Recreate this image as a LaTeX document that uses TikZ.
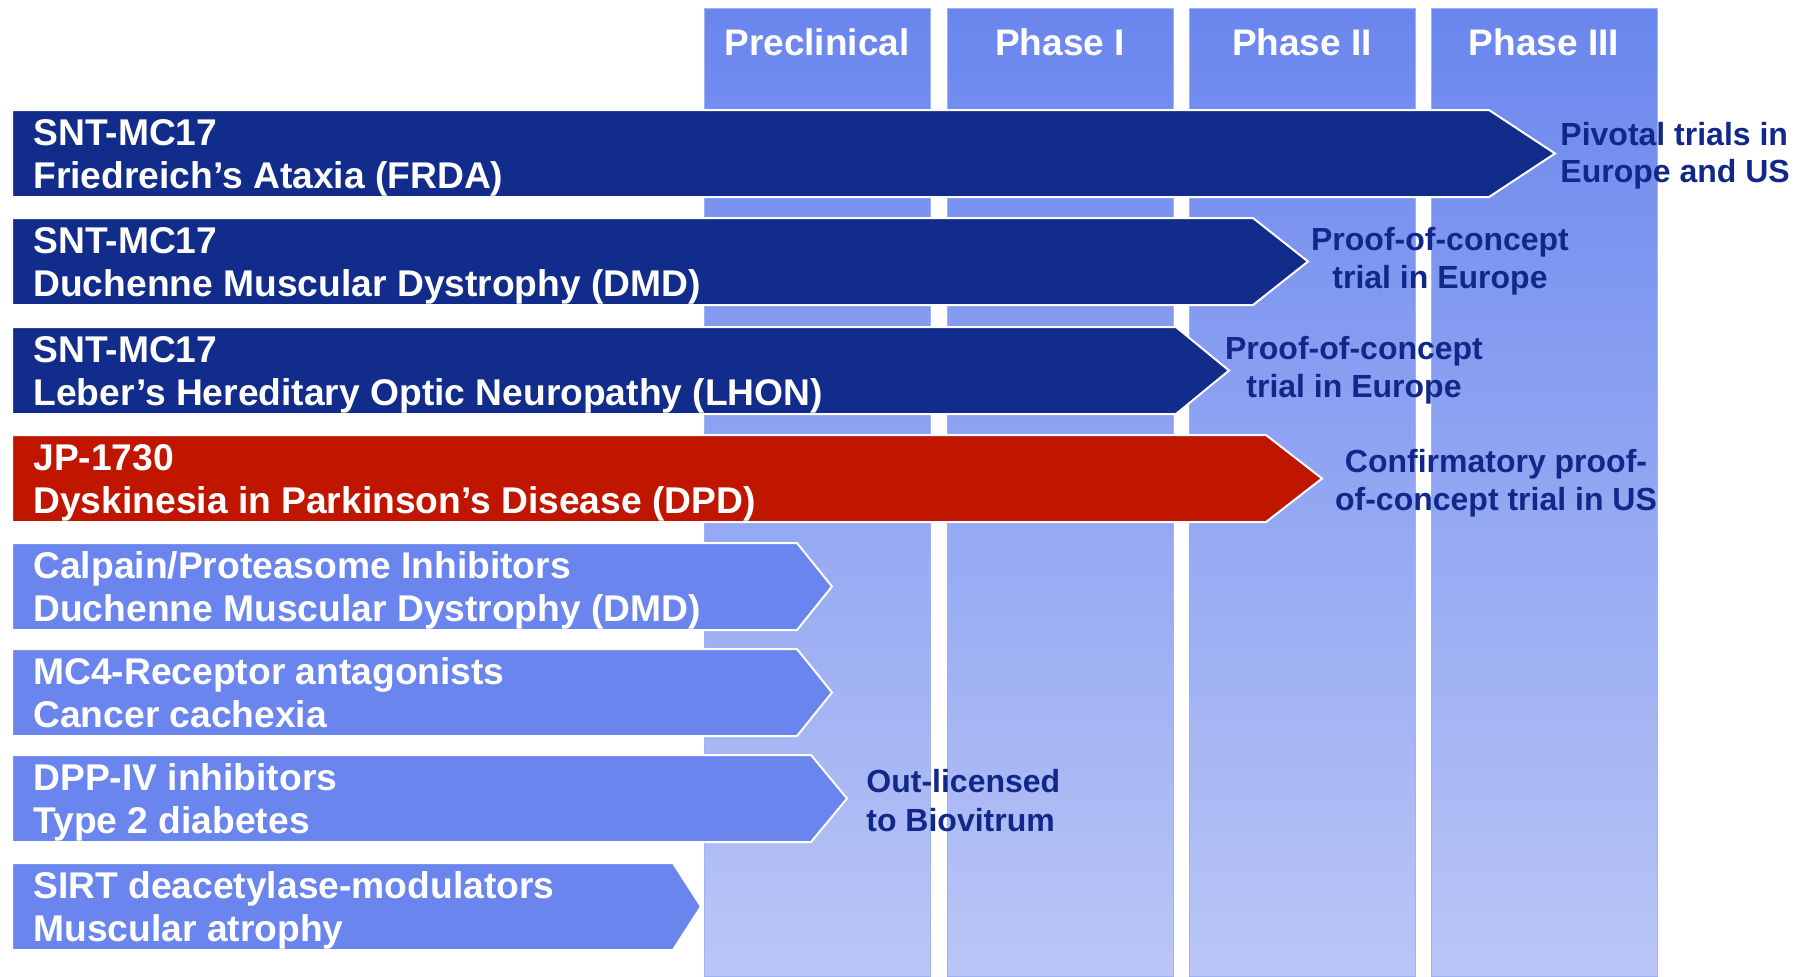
\documentclass[tikz,border=0pt]{standalone}
\usepackage{fontspec}
\setmainfont{Liberation Sans}
\usepackage{tikz}
\usetikzlibrary{positioning}

\definecolor{navy}{RGB}{18,44,140}
\definecolor{drred}{RGB}{192,22,0}
\definecolor{ltblue}{RGB}{106,134,238}
\definecolor{coltop}{RGB}{106,134,238}
\definecolor{colbot}{RGB}{186,198,246}
\definecolor{colline}{RGB}{160,178,244}
\definecolor{noteblue}{RGB}{17,40,138}

\tikzset{
  banner/.style={draw=white, line width=1pt, line join=miter},
  rowtxt/.style={anchor=base west, inner sep=0pt, text=white, font=\fontsize{18.6}{22}\selectfont\bfseries},
  phasetxt/.style={anchor=base, inner sep=0pt, text=white, font=\fontsize{18.5}{22}\selectfont\bfseries},
  notetxt/.style={inner sep=0pt, text=noteblue, font=\fontsize{16}{19}\selectfont\bfseries},
}

\begin{document}
\begin{tikzpicture}[x=0.5pt, y=-0.5pt]
\useasboundingbox (0,0) rectangle (1805,976);

% phase columns
\foreach \cx/\ph [count=\i] in {704/Preclinical, 947/Phase I, 1189/Phase II, 1431/Phase III}{
  \shadedraw[top color=coltop, bottom color=colbot, draw=colline, line width=0.4pt] (\cx,8) rectangle (\cx+226,976);
  \node[phasetxt] (ph\i) at (\cx+113,55) {\ph};
}

% compound banners
\foreach \ty/\sx/\px/\col/\nm/\dis [count=\i] in {
  110/1489/1555/navy/SNT-MC17/{Friedreich’s Ataxia (FRDA)},
  218/1253/1308/navy/SNT-MC17/{Duchenne Muscular Dystrophy (DMD)},
  327/1176/1229/navy/SNT-MC17/{Leber’s Hereditary Optic Neuropathy (LHON)},
  435/1266/1322/drred/JP-1730/{Dyskinesia in Parkinson’s Disease (DPD)},
  543/797/832/ltblue/{Calpain/Proteasome Inhibitors}/{Duchenne Muscular Dystrophy (DMD)},
  649/797/832/ltblue/{MC4-Receptor antagonists}/{Cancer cachexia},
  755/811/847/ltblue/{DPP-IV inhibitors}/{Type 2 diabetes},
  863/673/701/ltblue/{SIRT deacetylase-modulators}/{Muscular atrophy}}{
  \draw[banner, fill=\col] (12,\ty) -- (\sx,\ty) -- (\px,\ty+43.5) -- (\sx,\ty+87) -- (12,\ty+87) -- cycle;
  \node[rowtxt] (r\i a) at (33,\ty+35) {\nm};
  \node[rowtxt] (r\i b) at (33,\ty+78) {\dis};
}

% status notes
\node[notetxt, anchor=base west] (piv1) at (1560,145) {Pivotal trials in};
\node[notetxt, anchor=base west] (piv2) at (1560,182) {Europe and US};
\node[notetxt, anchor=base] (dmd1) at (1440,250) {Proof-of-concept};
\node[notetxt, anchor=base] (dmd2) at (1440,288) {trial in Europe};
\node[notetxt, anchor=base] (lhon1) at (1354,359) {Proof-of-concept};
\node[notetxt, anchor=base] (lhon2) at (1354,397) {trial in Europe};
\node[notetxt, anchor=base] (dpd1) at (1496,472) {Confirmatory proof-};
\node[notetxt, anchor=base] (dpd2) at (1496,510) {of-concept trial in US};
\node[notetxt, anchor=base west] (out1) at (866,792) {Out-licensed};
\node[notetxt, anchor=base west] (out2) at (866,831) {to Biovitrum};
\end{tikzpicture}
\end{document}
